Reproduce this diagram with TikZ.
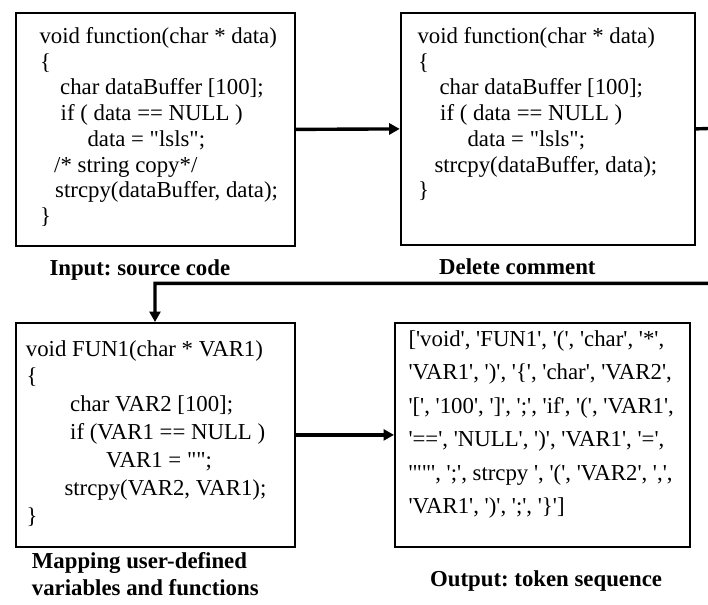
\documentclass[tikz,border=0pt]{standalone}
\usepackage{fontspec}
\setmainfont{Liberation Serif}[Ligatures=TeXOff]
\usetikzlibrary{arrows.meta}
\frenchspacing
\begin{document}
\begin{tikzpicture}[x=1pt,y=-1pt,
  boxnode/.style={draw, line width=1.8pt, anchor=north west, inner sep=0pt},
  code/.style={anchor=base west, inner sep=0pt, font=\fontsize{22.8}{27}\selectfont},
  lbl/.style={anchor=base west, inner sep=0pt, font=\fontsize{22.8}{27}\selectfont\bfseries},
  conn/.style={line width=3.4pt, -{Triangle[length=10.5pt,width=11pt]}}
]
\useasboundingbox (0,0) rectangle (708,604);
\clip (0,0) rectangle (708,604);

% boxes
\node[boxnode, minimum width=279pt, minimum height=233pt] (box1) at (15,12) {};
\node[boxnode, minimum width=294pt, minimum height=232pt] (box2) at (399.7,12) {};
\node[boxnode, minimum width=279pt, minimum height=224pt] (box3) at (15,322) {};
\node[boxnode, minimum width=295pt, minimum height=224pt] (box4) at (394,322) {};

% box 1 text
\node[code] (a1) at (39.3,43.5) {void function(char * data)};
\node[code] (a2) at (40,69.2) {\{};
\node[code] (a3) at (60,94.9) {char dataBuffer [100];};
\node[code] (a4) at (60.5,120.6) {if ( data == NULL )};
\node[code] (a5) at (87.3,146.3) {data = "lsls";};
\node[code] (a6) at (54,172) {/* string copy*/};
\node[code] (a7) at (55,197.7) {strcpy(dataBuffer, data);};
\node[code] (a8) at (40,223.4) {\}};

% box 2 text
\node[code] (b1) at (417.3,43.5) {void function(char * data)};
\node[code] (b2) at (418,69.2) {\{};
\node[code] (b3) at (439.3,94.9) {char dataBuffer [100];};
\node[code] (b4) at (440,120.6) {if ( data == NULL )};
\node[code] (b5) at (467.3,146.3) {data = "lsls";};
\node[code] (b6) at (434.3,172) {strcpy(dataBuffer, data);};
\node[code] (b7) at (418,197.7) {\}};

% box 3 text
\node[code] (c1) at (25.7,356) {void FUN1(char * VAR1)};
\node[code] (c2) at (26.5,383.9) {\{};
\node[code] (c3) at (70,411.8) {char VAR2 [100];};
\node[code] (c4) at (70,439.7) {if (VAR1 == NULL )};
\node[code] (c5) at (106,467.6) {VAR1 = "";};
\node[code] (c6) at (64.3,495.5) {strcpy(VAR2, VAR1);};
\node[code] (c7) at (26.5,523.4) {\}};

% box 4 text
\node[code] (d1) at (408.3,346) {['void', 'FUN1', '(', 'char', '*',};
\node[code] (d2) at (408.3,379.5) {'VAR1', ')', '\{', 'char', 'VAR2',};
\node[code] (d3) at (408.3,413) {'[', '100', ']', ';', 'if', '(', 'VAR1',};
\node[code] (d4) at (408.3,446.5) {'==', 'NULL', ')', 'VAR1', '=',};
\node[code] (d5) at (408.3,480) {'""', ';', strcpy ', '(', 'VAR2', ',',};
\node[code] (d6) at (408.3,513.5) {'VAR1', ')', ';', '\}']};

% labels
\node[lbl] (l1) at (49.3,275.5) {Input: source code};
\node[lbl] (l2) at (439,274) {Delete comment};
\node[lbl] (l3) at (31.7,568.5) {Mapping user-defined};
\node[lbl] (l4) at (31.7,595.5) {variables and functions};
\node[lbl] (l5) at (430,586) {Output: token sequence};

% connectors
\coordinate (out) at (725,128);
\coordinate (turn) at (155,283.3);
\draw[conn] (box1.east) -- (box2.west);
\draw[conn] (box2.east) -- (out) -- (out |- turn) -- (turn) -- (turn |- box3.north);
\draw[conn] (box3.east) -- (box4.west);
\end{tikzpicture}
\end{document}
